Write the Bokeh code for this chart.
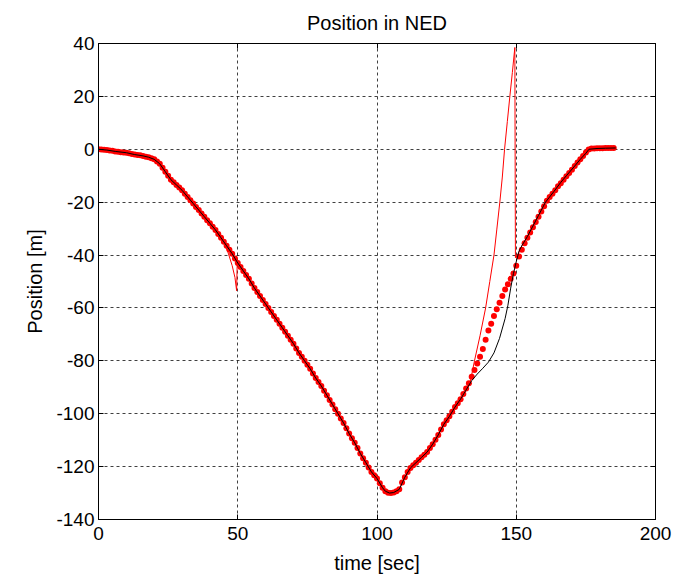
from bokeh.plotting import figure
from bokeh.models import LinearAxis, FixedTicker, Range1d
from bokeh.embed import file_html
from bokeh.resources import INLINE

# ---- data ----
time_true = [0, 3, 6, 10, 13, 16, 18, 20, 22, 24, 26, 28, 30, 32, 34, 36, 38, 40, 42, 44, 46, 48, 50,
             52, 54, 56, 58, 60, 62, 64, 66, 68, 70, 72, 74, 76, 78, 80, 82, 84, 86, 88, 90, 92, 94,
             96, 98, 100, 102, 103, 104.5, 106, 108, 110, 112, 114, 116, 118, 120, 122, 124, 126,
             128, 130, 132, 134, 136, 138, 140, 142, 144, 146, 147, 148, 149, 150, 151, 152, 154,
             156, 158, 160.5, 163.5, 166, 168, 170.7, 173, 175, 176.1, 179, 182, 185.7]
pos_true = [0, -0.3, -0.8, -1.3, -2, -2.5, -3, -3.8, -5.5, -8.5, -11.5, -13.5, -15.5, -18, -20.5,
            -23, -25.5, -28, -30.5, -33.5, -36.5, -39.5, -43, -46, -49, -52.5, -55.5, -58.5, -61.5,
            -64.5, -67.5, -70.5, -73.5, -77, -80, -83, -86.5, -89.5, -93, -96.5, -100, -103.5,
            -107.5, -111, -115, -118.5, -122, -124.5, -128, -129.3, -130, -129.8, -128.6, -124,
            -120.5, -118.5, -116.5, -114.5, -111.5, -108, -104, -101, -97.5, -94.5, -91, -87.5,
            -85, -82.8, -80.5, -77, -71.5, -64, -59, -52.5, -47, -42.5, -38.5, -36.5, -33, -29,
            -25, -20, -16, -12.5, -10, -6.7, -3.8, -1.5, 0, 0.3, 0.4, 0.5]

time_est = [0, 10, 20, 22, 24, 26, 30, 34, 38, 42, 44.8, 46.5, 48, 49, 49.6, 49.8, 52, 56, 60, 64,
            68, 72, 76, 80, 84, 88, 92, 96, 100, 102, 104.5, 106, 108, 110, 112, 116, 120, 124, 128,
            130, 132, 133.5, 135, 137, 139, 140.5, 142, 143, 144.1, 145, 145.8, 146.8, 147.7,
            148.6, 149.5, 149.7, 150.5, 152, 154, 156, 158, 160.5, 163.5, 166, 168, 170.7, 173,
            175, 176.1, 179, 182, 185.7]
pos_est = [0, -1.3, -3.8, -5.5, -8.5, -11.5, -15.5, -20.5, -25.5, -30.5, -34.7, -39, -44, -48.5,
           -53.5, -43, -46, -52.5, -58.5, -64.5, -70.5, -77, -83, -89.5, -96.5, -103.5, -111,
           -118.5, -124.5, -128, -130, -129.8, -128.6, -124, -120.5, -116.5, -111.5, -104, -97.5,
           -94.5, -91, -88, -80, -70.5, -60, -50, -40, -30.5, -20, -10.5, 0, 10.5, 20, 29, 38.5,
           -41, -40, -36.5, -33, -29, -25, -20, -16, -12.5, -10, -6.7, -3.8, -1.5, 0, 0.3, 0.4, 0.5]

time_gps = list(range(186))
pos_gps = [0, -0.1, -0.2, -0.3, -0.5, -0.6, -0.8, -0.9, -1.1, -1.2,
           -1.3, -1.5, -1.8, -2, -2.2, -2.3, -2.5, -2.8, -3, -3.4,
           -3.8, -4.6, -5.5, -7, -8.5, -10, -11.5, -12.5, -13.5, -14.5,
           -15.5, -16.8, -18, -19.3, -20.5, -21.8, -23, -24.3, -25.5, -26.8,
           -28, -29.3, -30.5, -32, -33.5, -35, -36.5, -38, -39.5, -41.3,
           -43, -44.5, -46, -47.5, -49, -50.8, -52.5, -54, -55.5, -57,
           -58.5, -60, -61.5, -63, -64.5, -66, -67.5, -69, -70.5, -72,
           -73.5, -75.3, -77, -78.5, -80, -81.5, -83, -84.8, -86.5, -88,
           -89.5, -91.3, -93, -94.8, -96.5, -98.3, -100, -101.8, -103.5, -105.5,
           -107.5, -109.3, -111, -113, -115, -116.8, -118.5, -120.3, -122, -123.3,
           -124.5, -126.3, -128, -129.3, -129.9, -130, -129.8, -129.3, -128.6, -126,
           -124, -122, -120.5, -119.5, -118.5, -117.5, -116.5, -115.5, -114.5, -113,
           -111.5, -109.8, -108, -106, -104, -102.5, -101, -99.3, -97.5, -96,
           -94.5, -92.5, -90.5, -88.5, -86, -83.5, -81, -78.5, -75.5, -72,
           -68.5, -66, -63, -60.5, -58, -55.5, -53, -51, -49, -47,
           -44, -40.5, -38, -35.5, -33.5, -31.5, -29.5, -27.5, -25.5, -23.5,
           -21.5, -19.5, -18, -16.8, -15.5, -14, -12.8, -11.5, -10.2, -9,
           -7.7, -6.3, -5, -3.8, -2.5, -1.2, -0.1, 0.3, 0.3, 0.4,
           0.4, 0.4, 0.5, 0.5, 0.5, 0.5]

x_ticks = [0, 50, 100, 150, 200]
y_ticks = [-140, -120, -100, -80, -60, -40, -20, 0, 20, 40]

FONT = "Liberation Sans"
FS_TICK = "19px"
FS_LABEL = "20px"

p = figure(width=678, height=576, output_backend="svg", toolbar_location=None,
           x_range=Range1d(0, 200), y_range=Range1d(-140, 40),
           min_border_left=98, min_border_right=23, min_border_top=42, min_border_bottom=54,
           title="Position in NED")
p.title.align = "center"
p.title.text_font = FONT
p.title.text_font_size = FS_LABEL
p.title.text_font_style = "normal"
p.title.text_color = "black"
p.title.standoff = 19

p.background_fill_color = "white"
p.border_fill_color = "white"
p.outline_line_color = "black"
p.outline_line_width = 1
p.outline_line_alpha = 1

for ax in (p.xaxis[0], p.yaxis[0]):
    ax.major_tick_in = 5
    ax.major_tick_out = 0
    ax.minor_tick_line_color = None
    ax.axis_line_color = "black"
    ax.major_tick_line_color = "black"
    ax.major_label_text_font = FONT
    ax.major_label_text_font_size = FS_TICK
    ax.major_label_text_color = "black"
    ax.axis_label_text_font = FONT
    ax.axis_label_text_font_size = FS_LABEL
    ax.axis_label_text_font_style = "normal"
    ax.axis_label_text_color = "black"

p.xaxis.ticker = FixedTicker(ticks=x_ticks)
p.yaxis.ticker = FixedTicker(ticks=y_ticks)
p.xaxis.major_label_overrides = {t: str(t) for t in x_ticks}
p.yaxis.major_label_overrides = {t: str(t) for t in y_ticks}
p.xaxis.axis_label = "time [sec]"
p.yaxis.axis_label = "Position [m]"
p.xaxis.major_label_standoff = 7
p.xaxis.axis_label_standoff = 9
p.yaxis.major_label_standoff = 4
p.yaxis.axis_label_standoff = 7

# mirrored axes (ticks only)
rax = LinearAxis(ticker=FixedTicker(ticks=y_ticks), major_tick_in=5, major_tick_out=0,
                 minor_tick_line_color=None, major_label_text_color=None,
                 major_label_text_font_size="1px", major_label_standoff=0)
tax = LinearAxis(ticker=FixedTicker(ticks=x_ticks), major_tick_in=5, major_tick_out=0,
                 minor_tick_line_color=None, major_label_text_color=None,
                 major_label_text_font_size="1px", major_label_standoff=0)
p.add_layout(rax, "right")
p.add_layout(tax, "above")

for g in (p.xgrid[0], p.ygrid[0]):
    g.grid_line_color = "black"
    g.grid_line_alpha = 0.75
    g.grid_line_dash = "3 3"
    g.grid_line_width = 1
p.xgrid.ticker = FixedTicker(ticks=x_ticks)
p.ygrid.ticker = FixedTicker(ticks=y_ticks)

p.line(time_est, pos_est, line_color="red", line_width=1)
p.scatter(time_gps, pos_gps, size=6, fill_color="red", line_color="red", line_width=0)
p.line(time_true, pos_true, line_color="black", line_width=1)

open("out.html", "w").write(file_html(p, INLINE))
